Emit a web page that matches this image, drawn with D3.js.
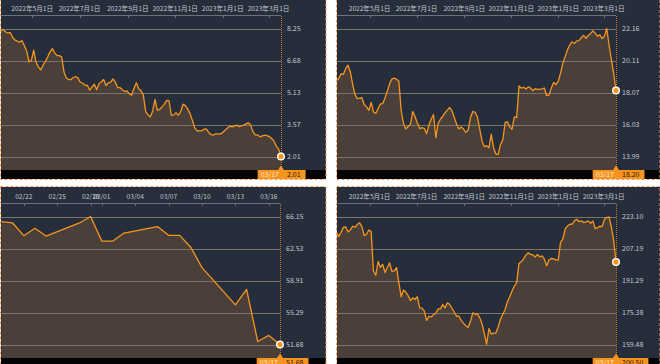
<!DOCTYPE html>
<head>
  <meta charset="utf-8">
  <script src="https://d3js.org/d3.v7.min.js"></script>
  <style>
    body { margin: 0; background: #fff; }
    svg { width: 660px; height: 364px; display: block; }
    text { font-family: "Noto Sans CJK JP", "Noto Sans", sans-serif; }
  </style>
</head>

<body>
  <svg></svg>
  <script>
    // every third day, 2022-03-19 .. 2023-03-17
    var yearDates = [
      "2022-03-19","2022-03-22","2022-03-25","2022-03-28","2022-03-31",
      "2022-04-03","2022-04-06","2022-04-09","2022-04-12","2022-04-15","2022-04-18","2022-04-21","2022-04-24","2022-04-27","2022-04-30",
      "2022-05-03","2022-05-06","2022-05-09","2022-05-12","2022-05-15","2022-05-18","2022-05-21","2022-05-24","2022-05-27","2022-05-30",
      "2022-06-02","2022-06-05","2022-06-08","2022-06-11","2022-06-14","2022-06-17","2022-06-20","2022-06-23","2022-06-26","2022-06-29",
      "2022-07-02","2022-07-05","2022-07-08","2022-07-11","2022-07-14","2022-07-17","2022-07-20","2022-07-23","2022-07-26","2022-07-29",
      "2022-08-01","2022-08-04","2022-08-07","2022-08-10","2022-08-13","2022-08-16","2022-08-19","2022-08-22","2022-08-25","2022-08-28","2022-08-31",
      "2022-09-03","2022-09-06","2022-09-09","2022-09-12","2022-09-15","2022-09-18","2022-09-21","2022-09-24","2022-09-27","2022-09-30",
      "2022-10-03","2022-10-06","2022-10-09","2022-10-12","2022-10-15","2022-10-18","2022-10-21","2022-10-24","2022-10-27","2022-10-30",
      "2022-11-02","2022-11-05","2022-11-08","2022-11-11","2022-11-14","2022-11-17","2022-11-20","2022-11-23","2022-11-26","2022-11-29",
      "2022-12-02","2022-12-05","2022-12-08","2022-12-11","2022-12-14","2022-12-17","2022-12-20","2022-12-23","2022-12-26","2022-12-29",
      "2023-01-01","2023-01-04","2023-01-07","2023-01-10","2023-01-13","2023-01-16","2023-01-19","2023-01-22","2023-01-25","2023-01-28","2023-01-31",
      "2023-02-03","2023-02-06","2023-02-09","2023-02-12","2023-02-15","2023-02-18","2023-02-21","2023-02-24","2023-02-27",
      "2023-03-02","2023-03-05","2023-03-08","2023-03-11","2023-03-14","2023-03-17"
    ];

    var stockA = [
      8.24, 8.16, 8.19, 8.08, 8.03, 8.06, 7.81, 7.68, 7.63, 7.59,
      7.66, 7.41, 7.15, 6.62, 6.70, 7.19, 6.62, 6.38, 6.23, 6.46,
      6.64, 6.86, 7.11, 7.27, 7.06, 6.93, 6.93, 6.86, 6.12, 5.84,
      5.76, 5.76, 5.86, 5.91, 5.83, 5.63, 5.58, 5.48, 5.48, 5.24,
      5.40, 5.53, 5.27, 5.56, 5.65, 5.76, 5.47, 5.60, 5.63, 5.79,
      5.63, 5.37, 5.37, 5.26, 5.18, 5.21, 5.06, 5.00, 5.34, 5.61,
      5.31, 5.22, 5.00, 4.20, 4.04, 3.94, 4.23, 4.79, 4.27, 4.30,
      4.43, 4.56, 4.75, 4.72, 4.02, 4.04, 4.15, 4.02, 4.20, 4.56,
      4.49, 4.33, 4.10, 3.78, 3.42, 3.26, 3.26, 3.26, 3.34, 3.36,
      3.18, 3.08, 3.05, 3.11, 3.11, 3.10, 3.18, 3.29, 3.39, 3.49,
      3.45, 3.49, 3.54, 3.47, 3.50, 3.54, 3.60, 3.65, 3.55, 3.21,
      3.06, 3.06, 2.97, 3.02, 3.05, 3.03, 2.98, 2.89, 2.76, 2.51,
      2.37, 2.01
    ];

    var stockB = [
      18.83, 18.97, 19.27, 19.24, 19.61, 19.82, 19.37, 18.60, 17.94, 17.68,
      17.72, 17.74, 17.31, 17.16, 16.93, 17.44, 16.84, 16.74, 17.04, 17.34,
      17.36, 17.72, 18.15, 18.64, 18.94, 18.99, 18.92, 18.79, 16.91, 16.09,
      15.75, 15.90, 16.05, 16.86, 16.54, 16.13, 15.77, 15.83, 15.79, 15.45,
      15.98, 16.37, 16.67, 15.19, 16.11, 16.37, 16.56, 16.78, 16.95, 17.12,
      16.91, 16.48, 16.05, 15.75, 15.88, 15.73, 15.53, 15.68, 16.48, 16.86,
      16.82, 16.52, 15.73, 14.98, 14.61, 14.68, 14.55, 15.41, 14.55, 14.15,
      14.12, 14.76, 15.06, 16.16, 16.20, 15.88, 15.73, 16.52, 16.48, 18.49,
      18.36, 18.41, 18.30, 18.43, 18.36, 18.19, 18.32, 18.28, 18.28, 18.30,
      18.36, 17.87, 17.91, 18.36, 18.71, 18.58, 18.79, 19.31, 19.95, 20.38,
      20.81, 21.11, 21.30, 21.20, 21.37, 21.39, 21.58, 21.71, 21.54, 21.71,
      21.84, 22.01, 21.86, 21.67, 21.75, 21.52, 21.67, 22.16, 21.09, 20.17,
      19.27, 18.20
    ];

    var stockD = [
      215.25, 213.08, 215.25, 217.75, 217.92, 215.42, 216.42, 218.26, 217.75, 219.09,
      219.93, 218.09, 213.58, 214.25, 216.42, 215.59, 195.88, 193.88, 200.72, 197.88,
      199.22, 195.21, 197.72, 200.05, 195.88, 196.05, 197.72, 190.20, 183.19, 186.53,
      185.53, 183.86, 181.35, 182.69, 181.85, 183.19, 177.68, 177.51, 176.18, 171.50,
      173.51, 173.17, 174.34, 175.01, 177.18, 177.18, 179.35, 177.68, 180.18, 179.35,
      177.51, 175.51, 173.51, 173.51, 171.50, 170.00, 168.83, 167.99, 171.00, 175.18,
      174.51, 174.67, 172.84, 169.83, 164.82, 159.60, 167.49, 164.66, 165.16, 165.16,
      168.16, 172.17, 174.51, 176.85, 180.69, 183.19, 186.03, 188.53, 190.20, 199.72,
      200.56, 202.06, 203.90, 205.07, 204.23, 204.06, 202.89, 204.23, 203.06, 203.56,
      201.89, 198.55, 201.56, 202.23, 202.06, 201.56, 201.39, 210.24, 211.91, 216.92,
      218.42, 219.26, 219.26, 220.93, 221.76, 220.59, 220.93, 220.09, 220.43, 220.93,
      219.76, 220.93, 217.09, 217.59, 218.26, 218.09, 221.76, 222.60, 222.93, 217.75,
      211.07, 200.50
    ];

    var monthDates = ["2023-02-20","2023-02-21","2023-02-22","2023-02-23","2023-02-24",
      "2023-02-27","2023-02-28","2023-03-01","2023-03-02","2023-03-03",
      "2023-03-06","2023-03-07","2023-03-08","2023-03-09","2023-03-10",
      "2023-03-13","2023-03-14","2023-03-15","2023-03-16","2023-03-17"];
    var stockC = [65.58, 65.42, 63.98, 64.82, 63.94, 65.42, 66.15, 63.37, 63.37, 64.28,
      65.01, 64.02, 64.02, 62.65, 60.37, 56.16, 57.90, 52.02, 52.71, 51.68];

    var yearTicks = ["2022-05-01","2022-07-01","2022-09-01","2022-11-01","2023-01-01","2023-03-01"];
    var monthTicks = ["2023-02-22","2023-02-25","2023-02-28","2023-03-01","2023-03-04",
      "2023-03-07","2023-03-10","2023-03-13","2023-03-16"];

    var ticksA = [2.01, 3.57, 5.13, 6.68, 8.25];
    var ticksB = [13.99, 16.03, 18.07, 20.11, 22.16];
    var ticksC = [51.68, 55.29, 58.91, 62.53, 66.15];
    var ticksD = [159.48, 175.38, 191.29, 207.19, 223.10];

    var parse = d3.timeParse("%Y-%m-%d");
    var yearFmt = function(d) { return d3.timeFormat("%Y")(d) + "年" + (d.getMonth() + 1) + "月" + d.getDate() + "日"; };
    var dayFmt = d3.timeFormat("%m/%d");

    var svg = d3.select('svg');
    var orange = '#f7941d';

    var panels = [
      {x: 0, y: 0, w: 326, dates: yearDates, vals: stockA, ticks: ticksA, xt: yearTicks, fmt: yearFmt, r0: -1.3, r1: 281},
      {x: 336, y: 0, w: 324, dates: yearDates, vals: stockB, ticks: ticksB, xt: yearTicks, fmt: yearFmt, r0: 0.5, r1: 280},
      {x: 0, y: 188, w: 326, dates: monthDates, vals: stockC, ticks: ticksC, xt: monthTicks, fmt: dayFmt, r0: 1.5, r1: 280},
      {x: 336, y: 188, w: 324, dates: yearDates, vals: stockD, ticks: ticksD, xt: yearTicks, fmt: yearFmt, r0: 0.5, r1: 280}
    ];

    panels.forEach(function(p, pi) {
      var g = svg.append('g').attr('transform', 'translate(' + [p.x, p.y] + ')');
      var pts = p.dates.map(function(d, i) { return {date: parse(d), v: p.vals[i]}; });

      var x = d3.scaleTime()
        .domain([pts[0].date, pts[pts.length - 1].date])
        .range([p.r0, p.r1]);
      var y = d3.scaleLinear()
        .domain([p.ticks[0], p.ticks[p.ticks.length - 1]])
        .range([156.5, 28.5]);

      g.append('rect')
        .attr('x', 1).attr('y', -1)
        .attr('width', p.w - 1).attr('height', 180)
        .attr('fill', '#262e3b');

      g.append('clipPath').attr('id', 'clip' + pi)
        .append('rect')
        .attr('x', 1).attr('y', 15)
        .attr('width', p.r1 - 1).attr('height', 155);

      // gridlines
      g.selectAll('line.grid')
        .data(p.ticks).enter().append('line')
        .attr('class', 'grid')
        .attr('x1', 1).attr('x2', p.r1)
        .attr('y1', function(d) { return Math.round(y(d)) + 0.5; })
        .attr('y2', function(d) { return Math.round(y(d)) + 0.5; })
        .attr('stroke', '#7c7d80')
        .attr('stroke-width', 1);

      var plot = g.append('g').attr('clip-path', 'url(#clip' + pi + ')');

      plot.append('path')
        .datum(pts)
        .attr('fill', '#4c4139')
        .attr('fill-opacity', 0.95)
        .attr('d', d3.area()
          .x(function(d) { return x(d.date); })
          .y0(170)
          .y1(function(d) { return y(d.v); }));

      // gridlines seen through the area
      plot.selectAll('line.grid2')
        .data(p.ticks).enter().append('line')
        .attr('x1', 1).attr('x2', p.r1)
        .attr('y1', function(d) { return Math.round(y(d)) + 0.5; })
        .attr('y2', function(d) { return Math.round(y(d)) + 0.5; })
        .attr('stroke', '#7c7468')
        .attr('stroke-width', 1);

      plot.append('path')
        .datum(pts)
        .attr('fill', 'none')
        .attr('stroke', orange)
        .attr('stroke-width', 1.3)
        .attr('stroke-linejoin', 'round')
        .attr('d', d3.line()
          .x(function(d) { return x(d.date); })
          .y(function(d) { return y(d.v); }));

      // top axis
      g.append('line')
        .attr('x1', 1).attr('x2', p.r1)
        .attr('y1', 15.5).attr('y2', 15.5)
        .attr('stroke', '#6d7179');
      var xt = p.xt.map(parse);
      g.selectAll('line.xtick')
        .data(xt).enter().append('line')
        .attr('x1', function(d) { return Math.round(x(d)) + 0.5; })
        .attr('x2', function(d) { return Math.round(x(d)) + 0.5; })
        .attr('y1', 16).attr('y2', 18)
        .attr('stroke', '#6d7179');
      g.selectAll('text.xlab')
        .data(xt).enter().append('text')
        .attr('x', function(d) { return x(d); })
        .attr('y', 11)
        .attr('text-anchor', 'middle')
        .attr('font-size', '6.6px')
        .attr('fill', '#c3c7cd')
        .text(p.fmt);

      // right labels
      g.selectAll('text.ylab')
        .data(p.ticks).enter().append('text')
        .attr('x', p.r1 + 6)
        .attr('y', function(d) { return y(d) + 2.5; })
        .attr('font-size', '7px')
        .attr('fill', '#c3c7cd')
        .text(function(d) { return d.toFixed(2); });

      // black strip
      g.append('rect')
        .attr('x', 1).attr('y', 170)
        .attr('width', p.w - 1).attr('height', 9)
        .attr('fill', '#050505');

      var last = pts[pts.length - 1];
      var lx = x(last.date);

      g.append('line')
        .attr('x1', Math.round(lx) + 0.5).attr('x2', Math.round(lx) + 0.5)
        .attr('y1', 16).attr('y2', 170)
        .attr('stroke', '#c9762a')
        .attr('stroke-dasharray', '1,1');

      g.append('path')
        .attr('d', 'M' + (lx - 3) + ',170L' + lx + ',165.5L' + (lx + 3) + ',170Z')
        .attr('fill', orange);

      var box = g.append('rect')
        .attr('y', 170).attr('height', 9)
        .attr('fill', orange);
      var dateText = g.append('text')
        .attr('x', lx - 2).attr('y', 177.3)
        .attr('text-anchor', 'end')
        .attr('font-size', '7px')
        .attr('fill', '#fbe9d4')
        .text(dayFmt(last.date));
      var valText = g.append('text')
        .attr('x', lx + 6).attr('y', 177.3)
        .attr('font-size', '7px')
        .attr('fill', '#2a1a08')
        .text(last.v.toFixed(2));
      var dw = dateText.node().getComputedTextLength();
      var vw = valText.node().getComputedTextLength();
      box.attr('x', lx - 2 - dw - 3).attr('width', dw + vw + 16);

      g.append('circle')
        .attr('cx', lx).attr('cy', y(last.v))
        .attr('r', 3.3)
        .attr('fill', orange)
        .attr('stroke', '#fff')
        .attr('stroke-width', 1.4);

      // dashed selection frame
      g.append('rect')
        .attr('x', 0.5).attr('y', -1.5)
        .attr('width', p.w - 0.5).attr('height', 181)
        .attr('fill', 'none')
        .attr('stroke', '#f0a060')
        .attr('stroke-dasharray', '3,2');
    });
  </script>
</body>
